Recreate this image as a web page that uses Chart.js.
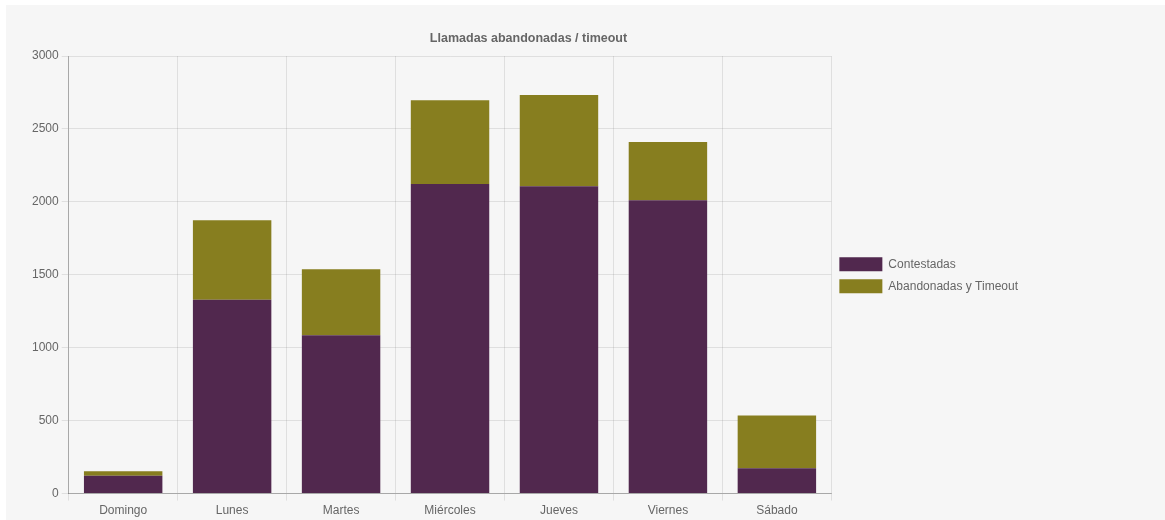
<!DOCTYPE html>
<html>
<head>
<meta charset="utf-8">
<script src="https://cdn.jsdelivr.net/npm/chart.js@4.4.0/dist/chart.umd.min.js"></script>
<style>
  html, body { margin: 0; padding: 0; background: #ffffff; width: 1165px; height: 520px; overflow: hidden; }
  #panel { position: absolute; left: 6px; top: 5px; width: 1159px; height: 515px; background: #f6f6f6; }
  #wrap { position: absolute; left: 0; top: 0; width: 1048px; height: 516px; }
</style>
</head>
<body>
<div id="panel"><div id="wrap"><canvas id="c"></canvas></div></div>
<script>
const categories = ["Domingo", "Lunes", "Martes", "Miércoles", "Jueves", "Viernes", "Sábado"];
const contestadas = [123, 1329, 1086, 2123, 2107, 2011, 173];
const abandonadas = [30, 545, 452, 573, 626, 400, 363];
const seriesNames = ["Contestadas", "Abandonadas y Timeout"];
const chartTitle = "Llamadas abandonadas / timeout";
const yMax = 3000;
const yStep = 500;

Chart.defaults.font.family = "'Liberation Sans', Arial, Helvetica, sans-serif";
Chart.defaults.font.size = 12;
Chart.defaults.color = "#666";

new Chart(document.getElementById("c"), {
  type: "bar",
  data: {
    labels: categories,
    datasets: [
      { label: seriesNames[0], data: contestadas, backgroundColor: "#51284e", borderWidth: 0 },
      { label: seriesNames[1], data: abandonadas, backgroundColor: "#877e1f", borderWidth: 0 }
    ]
  },
  options: {
    responsive: true,
    maintainAspectRatio: false,
    animation: false,
    layout: { padding: { left: 23, right: 26, top: 16, bottom: 0 } },
    plugins: {
      title: { display: true, text: chartTitle, font: { size: 12.5, weight: "bold" }, color: "#666", padding: { top: 10, bottom: 10 } },
      legend: {
        position: "right",
        title: { display: true, text: " ", font: { size: 7 }, padding: 0 },
        labels: { boxWidth: 43, boxHeight: 14, padding: 8, color: "#666", font: { size: 12 } }
      },
      tooltip: { enabled: false }
    },
    scales: {
      x: {
        stacked: true,
        grid: { color: "rgba(0,0,0,0.09)", tickLength: 7, offset: true },
        border: { color: "rgba(0,0,0,0.25)" },
        ticks: { color: "#666", padding: 3 }
      },
      y: {
        stacked: true,
        min: 0,
        max: yMax,
        ticks: { stepSize: yStep, color: "#666", padding: 3, callback: (v) => String(v) },
        grid: { color: "rgba(0,0,0,0.09)", tickLength: 7 },
        border: { color: "rgba(0,0,0,0.25)" }
      }
    }
  }
});
</script>
</body>
</html>
